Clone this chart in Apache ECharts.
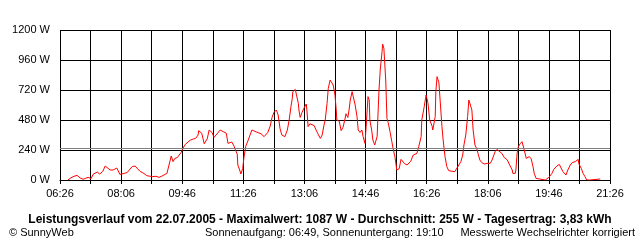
<!DOCTYPE html>
<html>
<head>
<meta charset="utf-8">
<script src="https://cdn.jsdelivr.net/npm/echarts@6/dist/echarts.min.js"></script>
<style>
html,body{margin:0;padding:0;background:#fff;}
#c{width:640px;height:240px;}
</style>
</head>
<body>
<div id="c"></div>
<script>
// Time axis labels (every 100 minutes, starting 06:26)
const xTickLabels = ['06:26','08:06','09:46','11:26','13:06','14:46','16:26','18:06','19:46','21:26'];
const yTicks = [0, 240, 480, 720, 960, 1200];
const averageW = 255;

// Measured power (time of day, watts)
const times = [
'06:39','06:44','06:49','06:54','06:59','07:04','07:08','07:12','07:17','07:20','07:23','07:27','07:31','07:36','07:40','07:43','07:48','07:53','07:56','07:59',
'08:04','08:07','08:11','08:16','08:19','08:24','08:29','08:32','08:37','08:40','08:43','08:48','08:53','08:58','09:03','09:08','09:13','09:16','09:21','09:24',
'09:28','09:31','09:34','09:38','09:41','09:44','09:47','09:51','09:54','09:59','10:04','10:08','10:12','10:13','10:18','10:22','10:23','10:27','10:30','10:35',
'10:38','10:41','10:44','10:48','10:53','10:58','11:01','11:04','11:07','11:11','11:12','11:16','11:17','11:20','11:22','11:24','11:25','11:27','11:30','11:34',
'11:37','11:40','11:42','11:47','11:50','11:55','12:00','12:03','12:06','12:10','12:13','12:16','12:20','12:23','12:26','12:29','12:34','12:38','12:41','12:44',
'12:46','12:47','12:51','12:52','12:56','12:57','12:59','13:02','13:05','13:09','13:10','13:12','13:15','13:18','13:22','13:25','13:28','13:32','13:35','13:38',
'13:40','13:43','13:45','13:48','13:50','13:53','13:56','13:58','13:59','14:03','14:06','14:09','14:12','14:14','14:17','14:19','14:21','14:24','14:26','14:29',
'14:32','14:34','14:37','14:40','14:42','14:45','14:47','14:50','14:52','14:53','14:56','14:58','15:01','15:05','15:06','15:08','15:10','15:13','15:14','15:16',
'15:19','15:21','15:23','15:26','15:29','15:31','15:34','15:36','15:37','15:41','15:44','15:47','15:50','15:54','15:57','16:00','16:04','16:07','16:10','16:13',
'16:17','16:18','16:22','16:25','16:26','16:28','16:31','16:35','16:36','16:40','16:41','16:43','16:44','16:46','16:48','16:51','16:53','16:56','16:59','17:02',
'17:07','17:12','17:17','17:22','17:25','17:27','17:30','17:33','17:35','17:37','17:40','17:42','17:45','17:48','17:50','17:53','17:56','18:00','18:05','18:10',
'18:13','18:16','18:18','18:21','18:24','18:29','18:33','18:38','18:41','18:46','18:47','18:51','18:52','18:54','18:56','18:59','19:02','19:04','19:05','19:09',
'19:12','19:14','19:17','19:20','19:22','19:25','19:27','19:40','19:43','19:46','19:51','19:54','19:59','20:03','20:06','20:09','20:14','20:17','20:21','20:24',
'20:29','20:32','20:34','20:35','20:39','20:42','20:45','20:48','20:53','20:55','21:10'
];
const watts = [
0,18,30,37,16,6,14,21,11,45,52,64,48,69,112,100,80,80,85,96,
45,58,53,60,75,107,112,95,69,60,53,35,30,27,30,21,32,40,53,45,
192,147,173,180,200,219,253,285,300,318,328,333,360,395,373,290,280,330,400,379,
341,350,375,400,387,375,293,277,304,270,253,208,120,80,48,60,93,180,270,320,
325,400,405,385,379,370,347,355,380,432,501,540,560,520,413,360,347,400,480,590,
650,707,725,715,613,560,501,540,573,608,560,427,450,440,435,400,370,333,360,440,
480,613,733,800,795,760,680,560,480,470,395,420,480,530,500,560,640,707,700,600,
507,400,380,400,347,293,427,667,640,480,400,320,280,350,480,720,880,1027,1087,1053,
800,493,460,387,307,253,187,120,80,90,165,150,130,120,135,150,200,210,213,267,
347,480,587,680,693,620,480,430,400,507,707,827,820,780,640,427,320,187,107,75,
70,67,107,147,200,280,360,507,640,630,560,400,280,250,213,160,140,128,133,133,
160,200,227,245,240,213,180,160,128,80,53,53,80,213,267,290,307,320,253,173,
170,187,170,107,53,13,0,0,5,21,53,85,112,125,110,67,40,80,120,139,
147,147,165,130,93,53,27,0,0,8,8
];

const START = 6 * 60 + 26;
function toMin(t){ const p = t.split(':'); return (+p[0]) * 60 + (+p[1]) - START; }
const seriesData = times.map((t, i) => [toMin(t), watts[i]]);

const chart = echarts.init(document.getElementById('c'), null, {renderer: 'canvas'});
const FONT = 'Liberation Sans';
chart.setOption({
  backgroundColor: '#ffffff',
  animation: false,
  grid: { left: 60, right: 30, top: 30, bottom: 60, containLabel: false },
  xAxis: {
    type: 'value', min: 0, max: 900, interval: 50,
    axisLine: { show: true, lineStyle: { color: '#000', width: 1 } },
    axisTick: { show: true, length: 4, lineStyle: { color: '#000' } },
    splitLine: { show: true, lineStyle: { color: '#000', width: 1 } },
    axisLabel: {
      color: '#000', fontFamily: FONT, fontSize: 11, margin: 8,
      showMinLabel: true, showMaxLabel: true,
      formatter: v => (v % 100 === 0 ? xTickLabels[v / 100] : '')
    }
  },
  yAxis: {
    type: 'value', min: yTicks[0], max: yTicks[yTicks.length - 1], interval: 240,
    axisLine: { show: false },
    axisTick: { show: false },
    splitLine: { show: true, lineStyle: { color: '#000', width: 1 } },
    axisLabel: { color: '#000', fontFamily: FONT, fontSize: 11, margin: 10, formatter: v => String(v) + ' W' }
  },
  title: [
    { text: 'Leistungsverlauf vom 22.07.2005 - Maximalwert: 1087 W - Durchschnitt: 255 W - Tagesertrag: 3,83 kWh',
      left: 'center', top: 209, textStyle: { fontFamily: FONT, fontSize: 12, fontWeight: 'bold', color: '#000' } },
    { text: '© SunnyWeb', left: 4, top: 222, textStyle: { fontFamily: FONT, fontSize: 11, fontWeight: 'normal', color: '#000' } },
    { text: 'Sonnenaufgang: 06:49, Sonnenuntergang: 19:10', left: 200, top: 222, textStyle: { fontFamily: FONT, fontSize: 11, fontWeight: 'normal', color: '#000' } },
    { text: 'Messwerte Wechselrichter korrigiert', right: 0, top: 222, textStyle: { fontFamily: FONT, fontSize: 11, fontWeight: 'normal', color: '#000' } }
  ],
  series: [{
    type: 'line', data: seriesData, showSymbol: false, symbol: 'none',
    lineStyle: { color: '#ff0000', width: 1 },
    markLine: {
      silent: true, symbol: 'none', label: { show: false },
      lineStyle: { color: '#808080', width: 1, type: 'solid' },
      data: [{ yAxis: averageW }]
    }
  }]
});
</script>
</body>
</html>
